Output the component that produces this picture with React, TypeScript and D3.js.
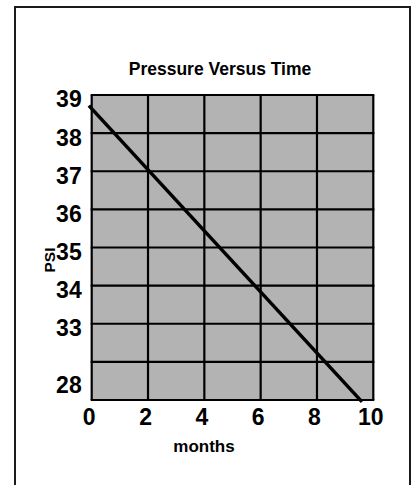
import React, { useEffect, useRef } from 'react';
import * as d3 from 'd3';

// chart values
const monthTicks = [0, 2, 4, 6, 8, 10];
const psiGrid = [39, 38, 37, 36, 35, 34, 33, 32, 31];
const psiTickValues = [39, 38, 37, 36, 35, 34, 33, 31.5];
const psiTickLabels = ['39', '38', '37', '36', '35', '34', '33', '28'];
const lineMonths = [-0.1, 9.6];
const linePsi = [38.72, 30.95];

const FONT = "'Liberation Sans', Arial, sans-serif";

const App = () => {
  const svgRef = useRef<SVGSVGElement | null>(null);

  useEffect(() => {
    const width = 418;
    const height = 485;
    const plot = { left: 91.7, right: 373.3, top: 95, bottom: 400 };

    const svg = d3.select(svgRef.current);
    svg.selectAll('*').remove();

    // outer frame
    svg.append('rect')
      .attr('x', 15)
      .attr('y', 7)
      .attr('width', 395)
      .attr('height', height + 10)
      .attr('fill', 'white')
      .attr('stroke', '#1a1a1a')
      .attr('stroke-width', 2);

    const xScale = d3.scaleLinear().domain([0, 10]).range([plot.left, plot.right]);
    const yScale = d3.scaleLinear().domain([39, 31]).range([plot.top, plot.bottom]);

    // gray background
    svg.append('rect')
      .attr('x', plot.left)
      .attr('y', plot.top)
      .attr('width', plot.right - plot.left)
      .attr('height', plot.bottom - plot.top)
      .attr('fill', '#b3b3b3');

    // grid
    svg.append('g')
      .selectAll('line')
      .data(monthTicks)
      .join('line')
      .attr('x1', d => xScale(d))
      .attr('x2', d => xScale(d))
      .attr('y1', plot.top)
      .attr('y2', plot.bottom)
      .attr('stroke', 'black')
      .attr('stroke-width', 2.2);

    svg.append('g')
      .selectAll('line')
      .data(psiGrid)
      .join('line')
      .attr('x1', plot.left - 1)
      .attr('x2', plot.right + 1)
      .attr('y1', d => yScale(d))
      .attr('y2', d => yScale(d))
      .attr('stroke', 'black')
      .attr('stroke-width', 2.2);

    // data line
    const points = lineMonths.map((m, i) => [m, linePsi[i]] as [number, number]);
    const line = d3.line<[number, number]>()
      .x(d => xScale(d[0]))
      .y(d => yScale(d[1]));
    svg.append('path')
      .datum(points)
      .attr('fill', 'none')
      .attr('stroke', 'black')
      .attr('stroke-width', 3.5)
      .attr('d', line);

    // x axis labels
    const xAxis = svg.append('g')
      .attr('transform', `translate(-3,${plot.bottom})`)
      .call(d3.axisBottom(xScale).tickValues(monthTicks).tickSize(0).tickPadding(9));
    xAxis.select('.domain').remove();
    xAxis.selectAll('text')
      .attr('font-family', FONT)
      .attr('font-size', 23)
      .attr('font-weight', 'bold')
      .attr('fill', 'black');

    // y axis labels
    const yAxis = svg.append('g')
      .attr('transform', `translate(${plot.left},0)`)
      .call(d3.axisLeft(yScale)
        .tickValues(psiTickValues)
        .tickFormat((d, i) => psiTickLabels[i])
        .tickSize(0)
        .tickPadding(10));
    yAxis.select('.domain').remove();
    yAxis.selectAll('text')
      .attr('font-family', FONT)
      .attr('font-size', 23)
      .attr('font-weight', 'bold')
      .attr('dy', '0.52em')
      .attr('fill', 'black');

    // title
    svg.append('text')
      .attr('x', 220)
      .attr('y', 75)
      .attr('text-anchor', 'middle')
      .attr('font-family', FONT)
      .attr('font-size', 17.5)
      .attr('font-weight', 'bold')
      .text('Pressure Versus Time');

    // axis titles
    svg.append('text')
      .attr('x', 204)
      .attr('y', 452)
      .attr('text-anchor', 'middle')
      .attr('font-family', FONT)
      .attr('font-size', 17)
      .attr('font-weight', 'bold')
      .text('months');

    svg.append('text')
      .attr('transform', 'translate(55,260) rotate(-90)')
      .attr('text-anchor', 'middle')
      .attr('font-family', FONT)
      .attr('font-size', 15.5)
      .attr('font-weight', 'bold')
      .text('PSI');

    svg.attr('width', width).attr('height', height);
  }, []);

  return (
    <svg
      ref={svgRef}
      width={418}
      height={485}
      style={{ position: 'absolute', left: 0, top: 0, display: 'block' }}
    ></svg>
  );
};

export default App;
